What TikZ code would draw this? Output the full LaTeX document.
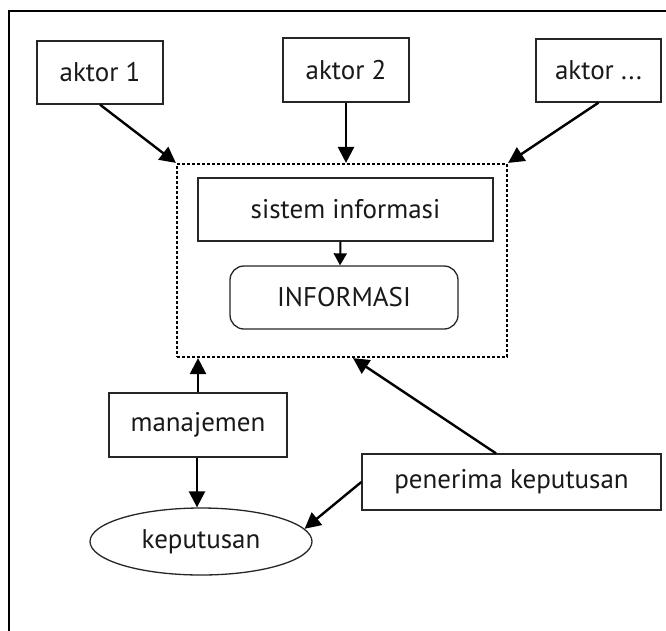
\documentclass[tikz,border=0pt]{standalone}
\usepackage{fontspec}
\setmainfont{PT Sans}
\usetikzlibrary{arrows.meta,shapes.geometric}
\begin{document}
\begin{tikzpicture}[x=1pt,y=-1pt,
  box/.style={draw=black!85,line width=1.3pt,rectangle,inner sep=0pt,font=\fontsize{27}{32}\selectfont,text=black!90},
  arr/.style={line width=2.4pt,-{Triangle[length=16pt,width=16pt]}},
  arrs/.style={line width=2pt,-{Triangle[length=12pt,width=13pt]}}
]
\useasboundingbox (0,0) rectangle (666,630);
\fill[white] (0,0) rectangle (666,630);
% frame
\draw[line width=2.2pt,black] (9,631) -- (9,11) -- (667,11);
% nodes
\node[box,minimum width=126pt,minimum height=63pt] (a1) at (100,72.5) {aktor 1};
\node[box,minimum width=126pt,minimum height=64pt] (a2) at (346,70) {aktor 2};
\node[box,minimum width=125pt,minimum height=63pt] (a3) at (598.5,70.5) {aktor ...};
\node[draw=black,line width=2.2pt,dash pattern=on 3pt off 2pt,rectangle,inner sep=0pt,minimum width=330pt,minimum height=193pt] (sys) at (342,260.5) {};
\node[box,minimum width=295pt,minimum height=63pt] (si) at (345.5,209.5) {sistem informasi};
\node[box,rounded corners=14pt,minimum width=228pt,minimum height=63pt] (info) at (344,297.5) {INFORMASI};
\node[box,minimum width=178pt,minimum height=64pt] (man) at (198,425) {manajemen};
\node[box,ellipse,minimum width=222pt,minimum height=67pt] (kep) at (201,541.5) {keputusan};
\node[box,minimum width=299pt,minimum height=56pt] (pen) at (511.5,482) {penerima keputusan};
% connectors
\draw[arr] (a1.south) -- (sys.north west);
\draw[arr] (a2.south) -- (a2.south |- sys.north);
\draw[arr] (a3.south) -- (sys.north east);
\draw[arrs] ([xshift=-5pt]si.south) -- ([xshift=-4pt]info.north);
\draw[arr] (man.north) -- (man.north |- sys.south);
\draw[arr] ([xshift=-1pt]man.south) -- ([xshift=-1pt]man.south |- kep.north);
\draw[arr] ([xshift=-15.5pt]pen.north) -- ([xshift=11pt]sys.south);
\draw[arr] (pen.west) -- (kep.7);
\end{tikzpicture}
\end{document}
